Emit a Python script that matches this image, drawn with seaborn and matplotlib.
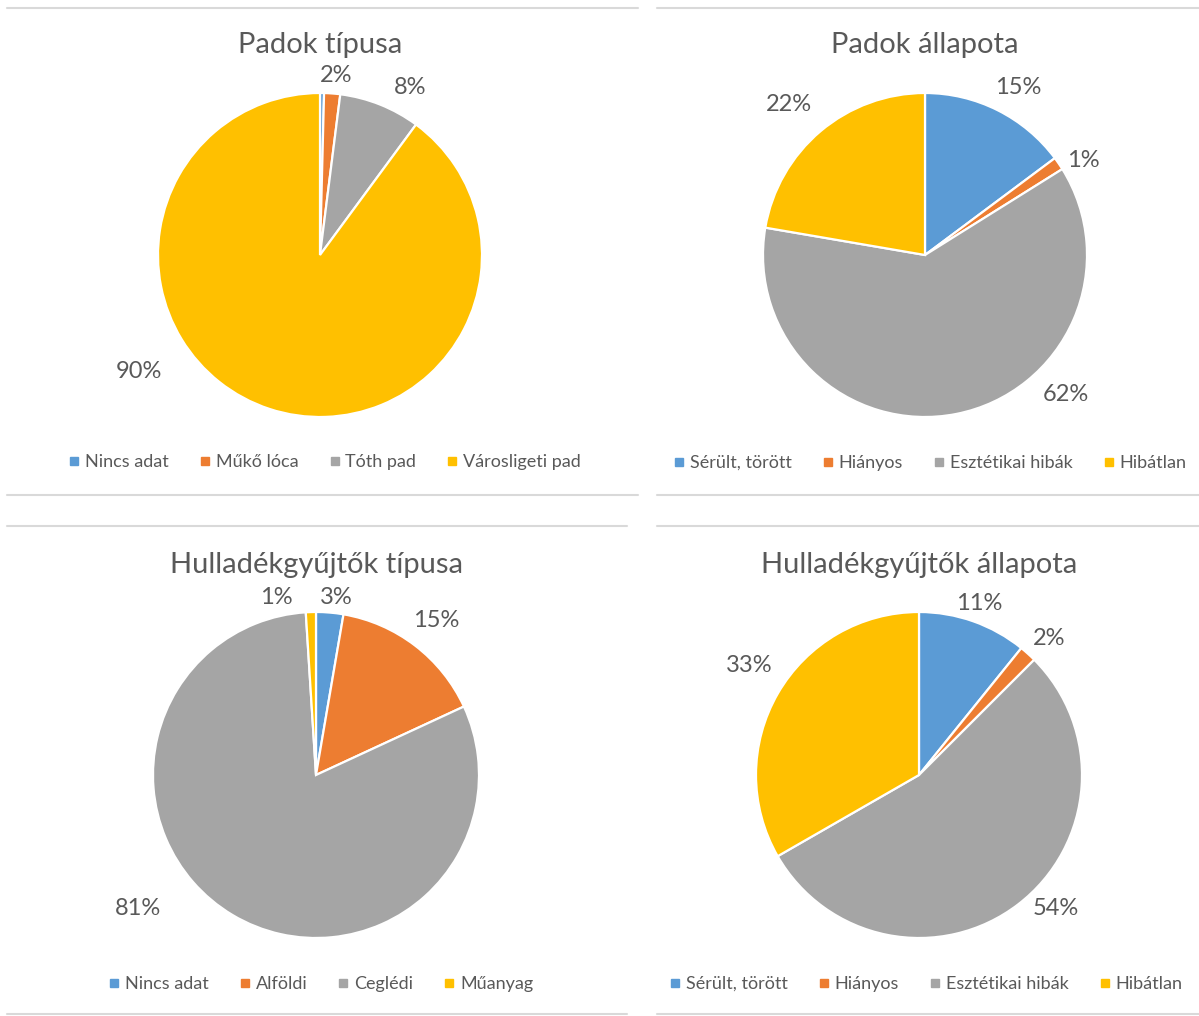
import matplotlib
matplotlib.use("Agg")
import matplotlib.pyplot as plt
from matplotlib.lines import Line2D
import seaborn as sns

sns.set_theme(style="white")
plt.rcParams["font.family"] = ["Lato", "DejaVu Sans"]

# Chart data (shares in percent)
padok_tipus_labels = ["Nincs adat", "Műkő lóca", "Tóth pad", "Városligeti pad"]
padok_tipus_values = [0.4, 1.6, 8.1, 89.9]

padok_allapot_labels = ["Sérült, törött", "Hiányos", "Esztétikai hibák", "Hibátlan"]
padok_allapot_values = [14.8, 1.3, 61.6, 22.3]

gyujto_tipus_labels = ["Nincs adat", "Alföldi", "Ceglédi", "Műanyag"]
gyujto_tipus_values = [2.7, 15.4, 80.9, 1.0]

gyujto_allapot_labels = ["Sérült, törött", "Hiányos", "Esztétikai hibák", "Hibátlan"]
gyujto_allapot_values = [10.8, 1.7, 54.2, 33.3]

titles = ["Padok típusa", "Padok állapota", "Hulladékgyűjtők típusa", "Hulladékgyűjtők állapota"]

colors = ["#5B9BD5", "#ED7D31", "#A5A5A5", "#FFC000"]
text_color = "#595959"
rule_color = "#D9D9D9"

W, H = 1199, 1016
fig = plt.figure(figsize=(W / 100, H / 100), dpi=100)
fig.patch.set_facecolor("white")


def fx(px):
    return px / W


def fy(py):
    return 1 - py / H


# Label placements in pie-radius units (None = no label)
label_pos = [
    [None, (0.10, 1.11), (0.556, 1.037), (-1.12, -0.72)],
    [(0.574, 1.037), (0.98, 0.586), (0.87, -0.86), (-0.84, 0.93)],
    [(0.123, 1.09), (0.74, 0.945), (-1.09, -0.816), (-0.245, 1.09)],
    [(0.368, 1.055), (0.80, 0.84), (0.84, -0.816), (-1.04, 0.67)],
]

charts = [
    (padok_tipus_labels, padok_tipus_values, (320, 255), 162, 45, 462, 324),
    (padok_allapot_labels, padok_allapot_values, (925, 255), 162, 45, 463, 929),
    (gyujto_tipus_labels, gyujto_tipus_values, (316, 775), 163, 565, 984, 320),
    (gyujto_allapot_labels, gyujto_allapot_values, (919, 775), 163, 565, 984, 925),
]

for i, (labels, values, (cx, cy), r, ty, ly, lx) in enumerate(charts):
    ax = fig.add_axes([fx(cx - r), fy(cy + r), fx(2 * r), (2 * r) / H])
    wedges, _ = ax.pie(
        values,
        colors=colors,
        startangle=90,
        counterclock=False,
        radius=1.0,
        wedgeprops=dict(edgecolor="white", linewidth=1.6),
    )
    ax.set_xlim(-1, 1)
    ax.set_ylim(-1, 1)
    ax.set_aspect("equal")
    ax.axis("off")

    for v, pos in zip(values, label_pos[i]):
        if pos is None:
            continue
        ax.text(pos[0], pos[1], f"{round(v):.0f}%", ha="center", va="center",
                fontsize=17, color=text_color, clip_on=False)

    fig.text(fx(cx), fy(ty), titles[i], ha="center", va="center",
             fontsize=21, color=text_color)

    handles = [Line2D([0], [0], marker="s", linestyle="none", markersize=6,
                      markerfacecolor=c, markeredgecolor=c) for c in colors]
    fig.legend(handles, labels, loc="center", bbox_to_anchor=(fx(lx), fy(ly)),
               ncol=4, frameon=False, fontsize=13, labelcolor=text_color,
               handletextpad=0.2, columnspacing=1.6, handlelength=0.8,
               borderaxespad=0)

# Light rules framing each chart panel
rules = [
    (7, 638, 8), (657, 1199, 8),
    (7, 638, 495), (657, 1199, 495),
    (7, 627, 526), (657, 1199, 526),
    (7, 627, 1014), (657, 1199, 1014),
]
for x0, x1, y in rules:
    fig.add_artist(Line2D([fx(x0), fx(x1)], [fy(y), fy(y)], color=rule_color,
                          linewidth=1.5, transform=fig.transFigure))

fig.savefig("out.png", dpi=100, facecolor="white")
